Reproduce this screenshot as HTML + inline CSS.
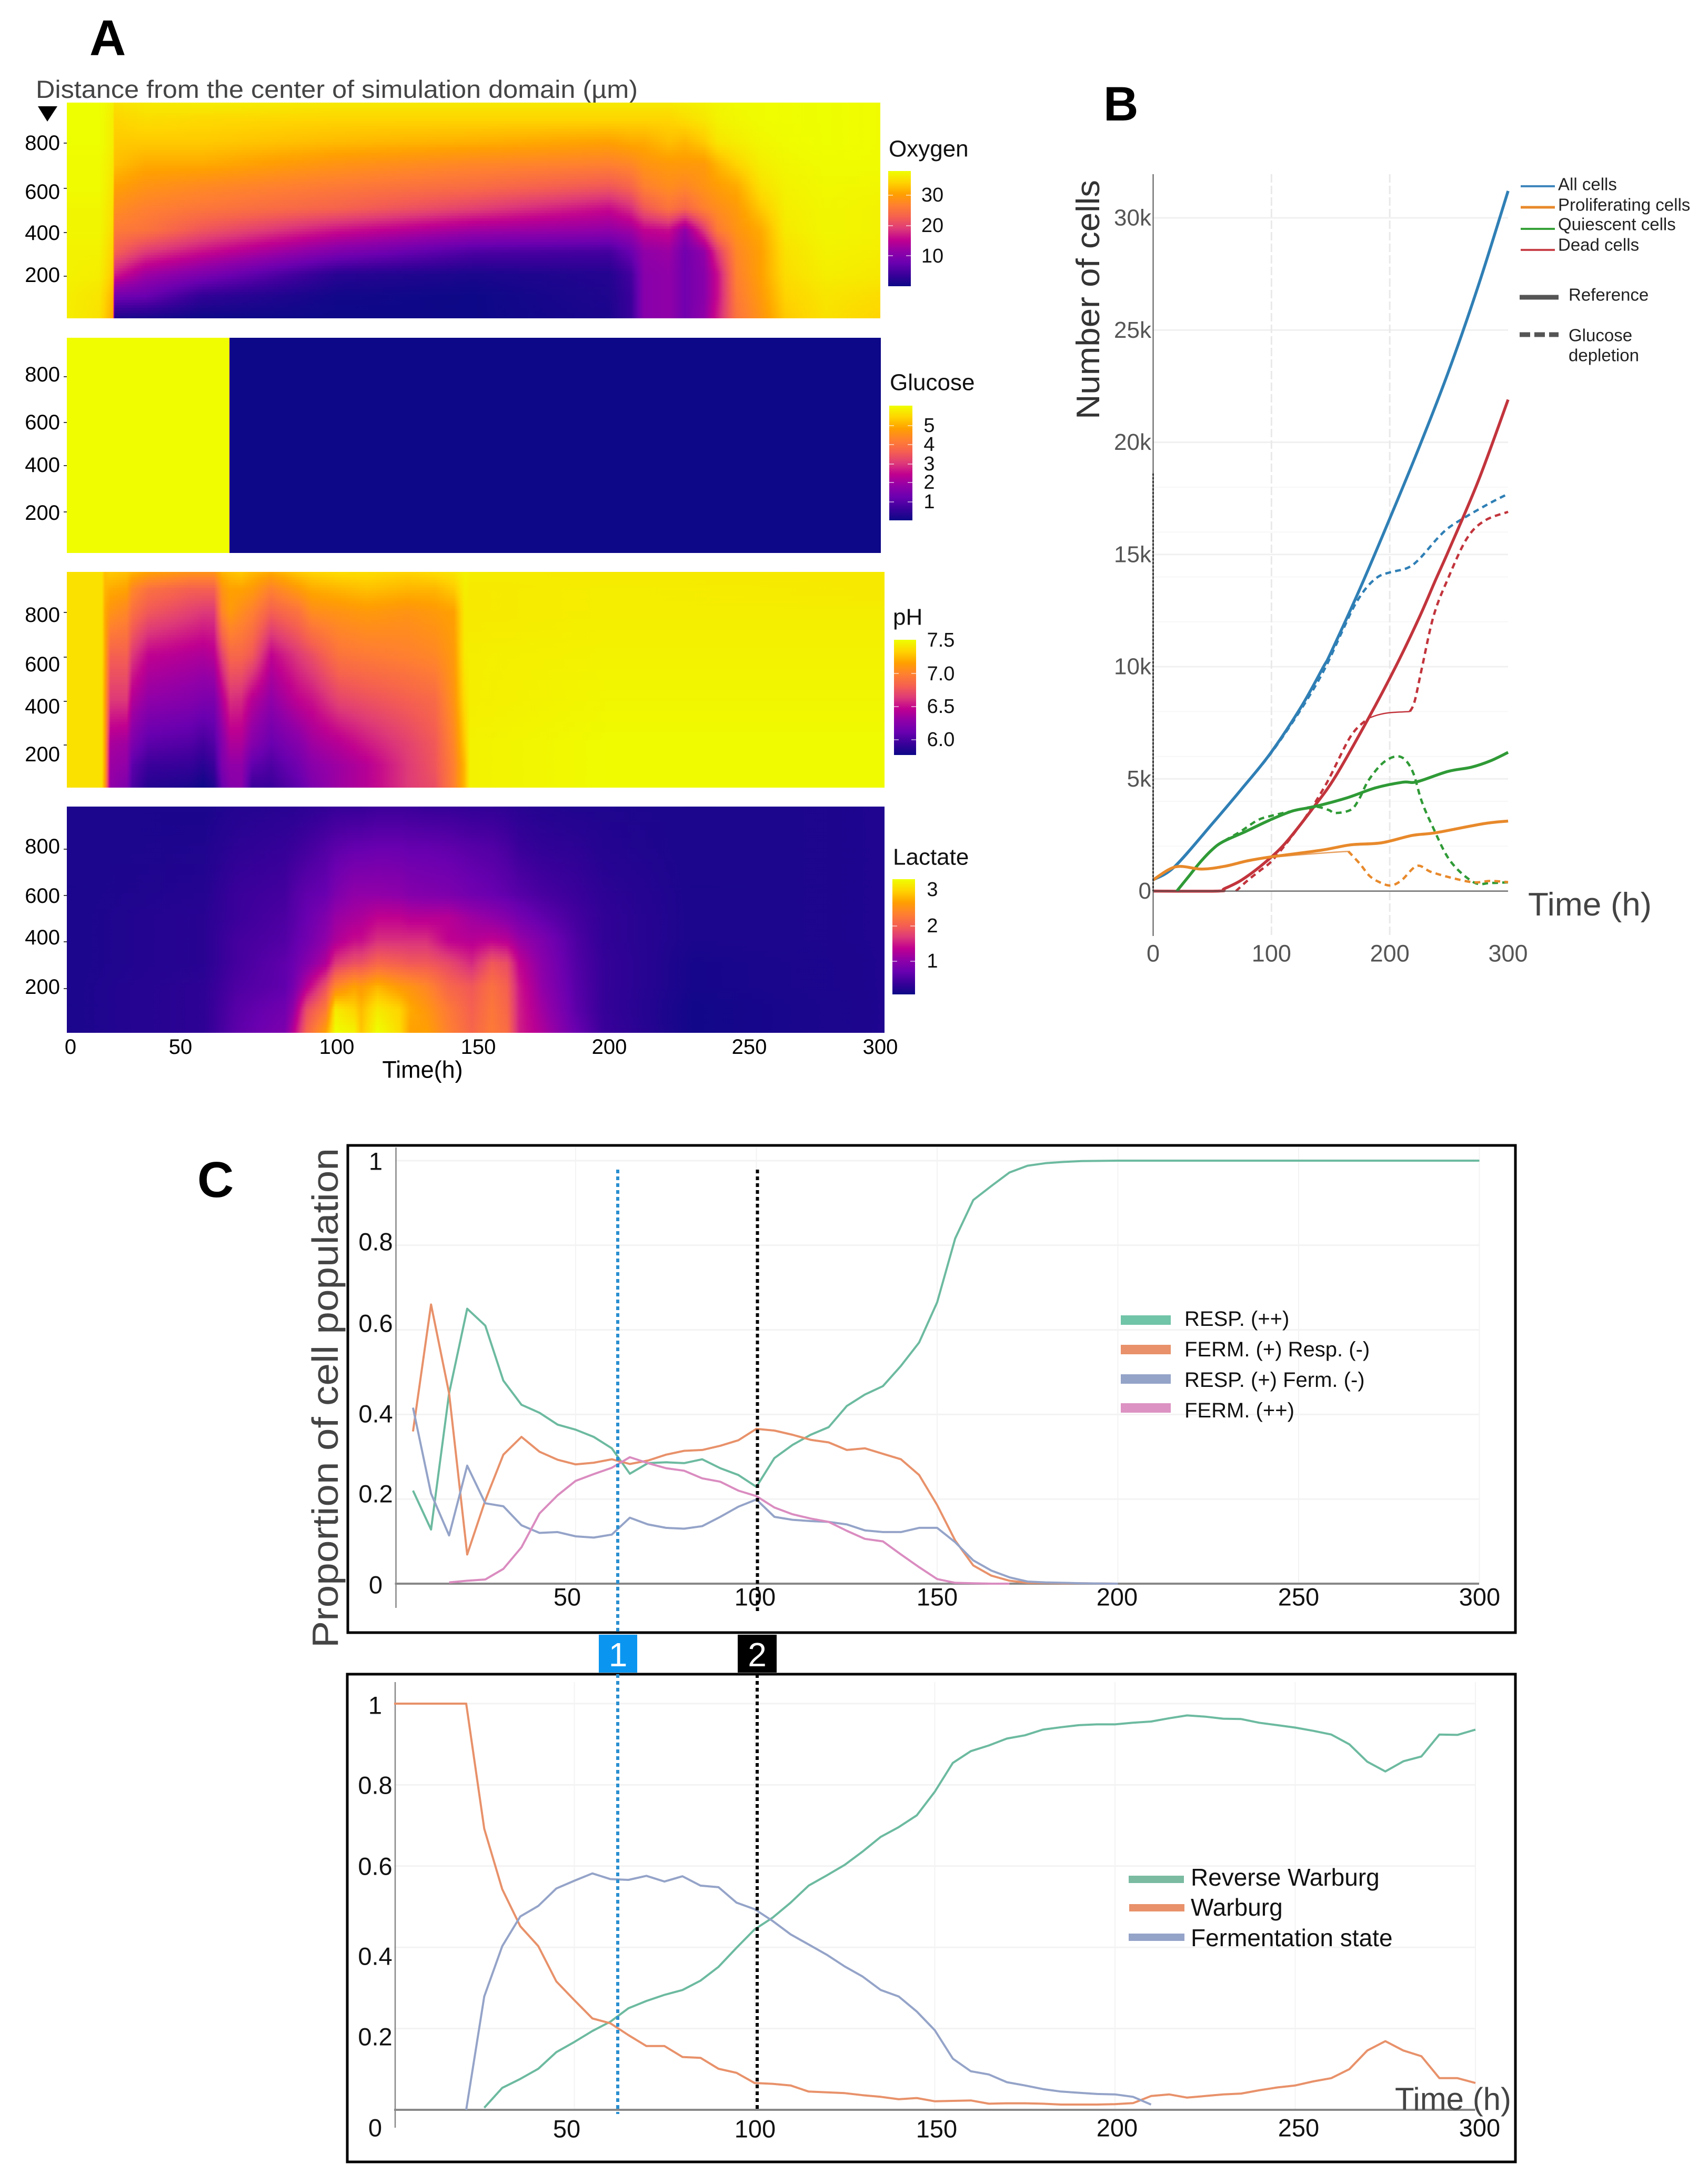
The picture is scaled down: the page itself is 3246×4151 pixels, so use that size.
<!DOCTYPE html>
<html lang="en">
<head>
<meta charset="utf-8">
<title>Simulation heatmaps, cell counts and metabolic states</title>
<style>
html,body{margin:0;padding:0;background:#fff}
svg{display:block}
text{font-family:"Liberation Sans",sans-serif;fill:#000}
.yl{font-size:40px;text-anchor:end;dominant-baseline:central}
.xl{font-size:40px;text-anchor:middle;dominant-baseline:central}
.ct{font-size:38px;text-anchor:middle;dominant-baseline:central;fill:#111}
.lt{font-size:44px;dominant-baseline:central;fill:#111}
.pl{font-size:96px;font-weight:bold}
.cy{font-size:47px;text-anchor:middle;dominant-baseline:central;fill:#111}
.cl{font-size:40px;dominant-baseline:central;fill:#111}
.dl{font-size:46px;dominant-baseline:central;fill:#111}
.bl{font-size:33px;dominant-baseline:central;fill:#222}
</style>
</head>
<body>
<svg id="fig" xmlns="http://www.w3.org/2000/svg" width="3246" height="4151" viewBox="0 0 3246 4151">
<rect x="0" y="0" width="3246" height="4151" fill="#fff"/>
<defs id="defs"></defs>

<!-- PANEL A -->
<g>
<text class="pl" x="170" y="105">A</text>
<text x="68" y="186" font-size="47" fill="#444" style="fill:#444" textLength="1144" lengthAdjust="spacingAndGlyphs">Distance from the center of simulation domain (µm)</text>
<polygon points="72,202 109,202 90,231" fill="#000"/>
<g id="heat-oxygen"></g>
<g id="heat-glucose"></g>
<g id="heat-ph"></g>
<g id="heat-lactate"></g>
<g id="heat-bars"></g>

<g>
<text class="yl" x="114" y="272">800</text>
<text class="yl" x="114" y="365">600</text>
<text class="yl" x="114" y="443">400</text>
<text class="yl" x="114" y="523">200</text>
</g>
<g>
<text class="yl" x="114" y="712">800</text>
<text class="yl" x="114" y="803">600</text>
<text class="yl" x="114" y="884">400</text>
<text class="yl" x="114" y="975">200</text>
</g>
<g>
<text class="yl" x="114" y="1169">800</text>
<text class="yl" x="114" y="1263">600</text>
<text class="yl" x="114" y="1343">400</text>
<text class="yl" x="114" y="1434">200</text>
</g>
<g>
<text class="yl" x="114" y="1609">800</text>
<text class="yl" x="114" y="1703">600</text>
<text class="yl" x="114" y="1782">400</text>
<text class="yl" x="114" y="1876">200</text>
</g>
<g>
<text class="xl" x="134" y="1990">0</text>
<text class="xl" x="343" y="1990">50</text>
<text class="xl" x="640" y="1990">100</text>
<text class="xl" x="909" y="1990">150</text>
<text class="xl" x="1158" y="1990">200</text>
<text class="xl" x="1424" y="1990">250</text>
<text class="xl" x="1673" y="1990">300</text>
<text class="xl" x="803" y="2033" font-size="45" style="font-size:45px">Time(h)</text>
</g>
<g>
<text class="lt" x="1689" y="283">Oxygen</text>
<text class="ct" x="1772" y="371">30</text>
<text class="ct" x="1772" y="429">20</text>
<text class="ct" x="1772" y="487">10</text>
<text class="lt" x="1691" y="727">Glucose</text>
<text class="ct" x="1766" y="809">5</text>
<text class="ct" x="1766" y="845">4</text>
<text class="ct" x="1766" y="882">3</text>
<text class="ct" x="1766" y="917">2</text>
<text class="ct" x="1766" y="954">1</text>
<text class="lt" x="1697" y="1173">pH</text>
<text class="ct" x="1788" y="1217">7.5</text>
<text class="ct" x="1788" y="1281">7.0</text>
<text class="ct" x="1788" y="1343">6.5</text>
<text class="ct" x="1788" y="1406">6.0</text>
<text class="lt" x="1697" y="1629">Lactate</text>
<text class="ct" x="1772" y="1691">3</text>
<text class="ct" x="1772" y="1760">2</text>
<text class="ct" x="1772" y="1827">1</text>
</g>
</g>

<!-- PANEL B -->
<g>
<text class="pl" x="2097" y="229" font-size="92" style="font-size:92px">B</text>
<g id="b-grid"></g>
<g id="b-series"></g>
<g id="b-axis"></g>
<text transform="translate(2089,797) rotate(-90)" font-size="62" style="fill:#333" textLength="455" lengthAdjust="spacingAndGlyphs">Number of cells</text>
<text x="2904" y="1740" font-size="62" style="fill:#444" textLength="235" lengthAdjust="spacingAndGlyphs">Time (h)</text>
<g>
<line x1="2890" x2="2955" y1="354" y2="354" stroke="#3f86bd" stroke-width="4"/>
<text class="bl" x="2961" y="350">All cells</text>
<line x1="2890" x2="2955" y1="394" y2="394" stroke="#e8892b" stroke-width="5"/>
<text class="bl" x="2961" y="389">Proliferating cells</text>
<line x1="2890" x2="2955" y1="435" y2="435" stroke="#38a13a" stroke-width="4"/>
<text class="bl" x="2961" y="426">Quiescent cells</text>
<line x1="2890" x2="2955" y1="475" y2="475" stroke="#c8434a" stroke-width="4"/>
<text class="bl" x="2961" y="465">Dead cells</text>
<line x1="2888" x2="2962" y1="565" y2="565" stroke="#555" stroke-width="9"/>
<text class="bl" x="2981" y="560">Reference</text>
<line x1="2888" x2="2962" y1="636" y2="636" stroke="#555" stroke-width="9" stroke-dasharray="20 8"/>
<text class="bl" x="2981" y="637">Glucose</text>
<text class="bl" x="2981" y="675">depletion</text>
</g>
</g>

<!-- PANEL C -->
<g>
<text class="pl" x="375" y="2275">C</text>
<text transform="translate(642,3132) rotate(-90)" font-size="70" style="fill:#444" textLength="950" lengthAdjust="spacingAndGlyphs">Proportion of cell population</text>

<rect x="661" y="2177" width="2219" height="926" fill="#fff" stroke="#000" stroke-width="5"/>
<g id="c-top"></g>
<g>
<text class="cy" x="714" y="2207">1</text>
<text class="cy" x="714" y="2360">0.8</text>
<text class="cy" x="714" y="2515">0.6</text>
<text class="cy" x="714" y="2687">0.4</text>
<text class="cy" x="714" y="2839">0.2</text>
<text class="cy" x="714" y="3012">0</text>
</g>
<g>
<text class="cy" x="1078" y="3035">50</text>
<text class="cy" x="1435" y="3035">100</text>
<text class="cy" x="1781" y="3035">150</text>
<text class="cy" x="2123" y="3035">200</text>
<text class="cy" x="2468" y="3035">250</text>
<text class="cy" x="2812" y="3035">300</text>
</g>
<g>
<rect x="2130" y="2500" width="95" height="18" fill="#70c4a8"/>
<text class="cl" x="2251" y="2507">RESP. (++)</text>
<rect x="2130" y="2556" width="95" height="18" fill="#e8916a"/>
<text class="cl" x="2251" y="2565">FERM. (+) Resp. (-)</text>
<rect x="2130" y="2612" width="95" height="18" fill="#94a3c8"/>
<text class="cl" x="2251" y="2623">RESP. (+) Ferm. (-)</text>
<rect x="2130" y="2667" width="95" height="18" fill="#dc92c2"/>
<text class="cl" x="2251" y="2681">FERM. (++)</text>
</g>

<rect x="660" y="3182" width="2220" height="927" fill="#fff" stroke="#000" stroke-width="5"/>
<g id="c-bot"></g>
<g>
<text class="cy" x="713" y="3241">1</text>
<text class="cy" x="713" y="3393">0.8</text>
<text class="cy" x="713" y="3547">0.6</text>
<text class="cy" x="713" y="3718">0.4</text>
<text class="cy" x="713" y="3871">0.2</text>
<text class="cy" x="713" y="4044">0</text>
</g>
<g>
<text class="cy" x="1077" y="4046">50</text>
<text class="cy" x="1435" y="4046">100</text>
<text class="cy" x="1780" y="4046">150</text>
<text class="cy" x="2123" y="4044">200</text>
<text class="cy" x="2468" y="4044">250</text>
<text class="cy" x="2812" y="4044">300</text>
</g>
<text x="2651" y="4010" font-size="60" style="fill:#444" textLength="221" lengthAdjust="spacingAndGlyphs">Time (h)</text>
<g>
<rect x="2145" y="3565" width="105" height="14" fill="#7abba2"/>
<text class="dl" x="2263" y="3568">Reverse Warburg</text>
<rect x="2146" y="3619" width="105" height="14" fill="#e8916a"/>
<text class="dl" x="2263" y="3625">Warburg</text>
<rect x="2145" y="3675" width="106" height="14" fill="#94a3c8"/>
<text class="dl" x="2263" y="3683">Fermentation state</text>
</g>

<g>
<line x1="1174" x2="1174" y1="2223" y2="3107" stroke="#2a8fd0" stroke-width="6" stroke-dasharray="7 6"/>
<line x1="1439.5" x2="1439.5" y1="2223" y2="3062" stroke="#000" stroke-width="6" stroke-dasharray="7 6"/>
<line x1="1174" x2="1174" y1="3182" y2="4018" stroke="#2a8fd0" stroke-width="6" stroke-dasharray="7 6"/>
<line x1="1439" x2="1439" y1="3182" y2="4010" stroke="#000" stroke-width="6" stroke-dasharray="7 6"/>
<rect x="1138" y="3107" width="73" height="72" fill="#0a96f0"/>
<text x="1174.500" y="3145" font-size="64" text-anchor="middle" dominant-baseline="central" style="fill:#fff">1</text>
<rect x="1402" y="3107" width="74" height="72" fill="#000"/>
<text x="1439" y="3145" font-size="64" text-anchor="middle" dominant-baseline="central" style="fill:#fff">2</text>
</g>
</g>
</svg>

<script>
// ===== PANEL A DATA (values are fractions of each colour scale) =====
const oxygenTimes=[0,12,17,17.6,29,50,100,150,200,208,213,222,228,235,240,247,256,265,280,300];
const oxygenDepths=[0,100,200,300,400,500,600,700,800,900,980];
const oxygenValues=[
[.96,.96,.97,.97,.98,.98,.99,.99,1,1,1],
[.93,.94,.96,.97,.98,.98,.99,.99,1,1,1],
[.82,.84,.88,.9,.92,.93,.94,.95,.96,.96,.97],
[.03,.22,.45,.6,.68,.74,.8,.86,.88,.9,.93],
[.02,.2,.33,.5,.66,.7,.76,.82,.88,.92,.95],
[0,.08,.25,.42,.57,.67,.73,.82,.88,.91,.96],
[0,.01,.06,.25,.43,.61,.68,.76,.85,.9,.95],
[0,0,.03,.14,.33,.52,.64,.72,.83,.9,.95],
[.03,.04,.05,.12,.3,.42,.58,.7,.8,.9,.95],
[.1,.1,.12,.2,.33,.48,.62,.72,.82,.9,.95],
[.28,.28,.28,.3,.4,.58,.7,.76,.82,.9,.95],
[.3,.3,.3,.32,.42,.66,.74,.78,.86,.9,.95],
[.22,.22,.22,.22,.3,.62,.72,.78,.84,.92,.96],
[.3,.28,.28,.3,.5,.7,.76,.78,.88,.94,.97],
[.45,.42,.42,.5,.68,.74,.79,.84,.94,.97,.98],
[.66,.68,.7,.72,.76,.78,.82,.9,.96,.98,.99],
[.76,.78,.8,.8,.82,.88,.93,.96,.98,.99,.99],
[.88,.9,.92,.93,.95,.96,.97,.98,.99,.995,.995],
[.93,.94,.96,.97,.98,.98,.985,.99,1,1,1],
[.9,.92,.95,.96,.97,.97,.98,.99,.99,.99,.99]];
const glucoseTimes=[0,59.9,60,300];
const glucoseDepths=[0,980];
const glucoseValues=[[.995,.995],[.995,.995],[0,0],[0,0]];
const phTimes=[0,12.8,14,16,22,24,30,45,50,54,57,60,64,68,75,85,90,100,110,125,135,142,146,148,200,300];
const phDepths=[0,100,200,400,600,800,900,980];
const phValues=[
[.93,.93,.93,.93,.93,.93,.93,.93],
[.93,.93,.93,.93,.93,.93,.93,.93],
[.78,.8,.8,.8,.82,.82,.84,.86],
[.3,.32,.35,.5,.6,.76,.82,.88],
[.25,.3,.33,.5,.6,.72,.8,.86],
[.14,.17,.25,.37,.5,.65,.72,.84],
[.05,.1,.17,.3,.4,.58,.65,.8],
[.03,.09,.15,.27,.37,.52,.6,.76],
[0,.06,.12,.25,.36,.5,.6,.76],
[.04,.1,.15,.25,.38,.5,.6,.76],
[.2,.25,.27,.37,.52,.72,.76,.84],
[.27,.3,.36,.48,.62,.78,.8,.86],
[.28,.3,.36,.47,.62,.74,.8,.88],
[.1,.18,.27,.38,.58,.7,.78,.85],
[.1,.14,.2,.3,.4,.6,.7,.82],
[.18,.22,.27,.4,.5,.66,.78,.88],
[.25,.28,.33,.43,.55,.74,.82,.9],
[.33,.33,.38,.53,.66,.76,.84,.92],
[.38,.38,.44,.56,.68,.78,.86,.92],
[.5,.5,.52,.6,.7,.76,.84,.9],
[.55,.57,.58,.63,.72,.78,.84,.92],
[.7,.7,.72,.76,.78,.8,.88,.94],
[.85,.85,.88,.92,.95,.95,.96,.97],
[.97,.97,.97,.96,.96,.95,.95,.96],
[.99,.99,.99,.98,.97,.96,.96,.95],
[.99,.99,.99,.98,.97,.96,.95,.95]];
const lactateTimes=[0,50,62,80,83,88,95,98.6,105.5,108,114,122,126,132,140,148.6,156,161.5,166,174.5,187,197,230,300];
const lactateDepths=[0,100,200,300,400,500,600,800,980];
const lactateValues=[
[.03,.03,.03,.03,.03,.03,.03,.03,.03],
[.07,.07,.07,.06,.06,.06,.05,.04,.03],
[.17,.16,.14,.12,.12,.1,.1,.07,.05],
[.25,.22,.18,.18,.15,.14,.12,.09,.06],
[.38,.3,.23,.2,.18,.16,.15,.1,.06],
[.62,.55,.38,.27,.22,.2,.18,.12,.07],
[.8,.68,.56,.37,.3,.26,.2,.15,.08],
[1,.95,.72,.5,.36,.32,.25,.17,.09],
[.97,.9,.8,.56,.42,.35,.3,.19,.09],
[.87,.85,.78,.56,.42,.36,.3,.19,.09],
[1,.95,.84,.62,.48,.4,.3,.2,.1],
[.92,.9,.78,.6,.48,.4,.29,.2,.1],
[.8,.82,.76,.58,.48,.38,.27,.19,.1],
[.8,.77,.72,.58,.48,.38,.26,.19,.09],
[.7,.68,.62,.54,.4,.38,.25,.18,.09],
[.62,.6,.58,.47,.38,.33,.22,.16,.08],
[.68,.67,.65,.58,.4,.3,.2,.15,.08],
[.64,.62,.6,.55,.38,.27,.18,.13,.07],
[.45,.45,.44,.4,.32,.23,.16,.1,.06],
[.36,.33,.3,.28,.25,.18,.13,.08,.05],
[.2,.17,.16,.15,.14,.12,.1,.07,.04],
[.1,.09,.09,.09,.08,.08,.07,.05,.04],
[.01,.01,.02,.02,.03,.03,.03,.03,.03],
[.04,.04,.04,.04,.04,.04,.04,.04,.04]];
const plasmaStops=['#0d0887','#3a009a','#6a00b0','#9000a8','#c00090','#de3a78','#f56050','#ff8030','#ffa000','#ffd400','#eeff00'];

// ===== PANEL B DATA (hours, thousands of cells) =====
const bTicksY=[0,5,10,15,20,25,30];
const bFaintY=[2,4,6,8,12,14,16,18];
const bTicksX=[0,100,200,300];
const allRefT=[0,18,50,74,99,125,144,150,175,200,225,250,275,300];
const allRefV=[.5,1.08,3,4.5,6.13,8.2,10,10.6,13.5,16.6,19.8,23.2,27,31.2];
const allDepT=[0,18,50,74,99,125,144,160,170,180,190,200,215,225,240,250,265,285,300];
const allDepV=[.5,1.08,3,4.5,6.1,8.1,9.8,11.6,12.7,13.5,14,14.2,14.4,14.8,15.7,16.2,16.7,17.3,17.7];
const prolRefT=[0,19,41,60,80,99,142,167,193,219,239,279,300];
const prolRefV=[.5,1.08,.98,1.1,1.35,1.52,1.82,2.06,2.15,2.48,2.6,3,3.12];
const prolThinT=[99,125,150,165];
const prolThinV=[1.5,1.62,1.72,1.77];
const prolDepT=[165,175,183,192,201,210,223,235,253,271,285,300];
const prolDepV=[1.77,1.2,.67,.38,.25,.48,1.12,.85,.58,.39,.45,.4];
const quiRefT=[20,30,40,50,59,78,98,118,136,163,188,211,223,249,269,285,300];
const quiRefV=[0,.65,1.3,1.85,2.2,2.65,3.15,3.57,3.76,4.14,4.6,4.85,4.87,5.33,5.52,5.8,6.18];
const quiDepT=[20,30,40,50,59,74,88,99,118,136,148,154,167,174,182,194,205,213,220,227,236,251,271,285,300];
const quiDepV=[0,.65,1.3,1.85,2.2,2.66,3.15,3.34,3.57,3.76,3.62,3.48,3.62,4.09,4.93,5.7,6,5.85,5.24,4,2.9,1.35,.39,.36,.39];
const deadRefT=[0,55,60,75,94,112,136,154,182,205,225,239,250,275,300];
const deadRefV=[0,0,.1,.5,1.25,2.15,3.76,5.1,7.7,10,12.2,13.9,15.2,18.3,21.9];
const deadDepT=[70,80,90,102,125,146,167,182];
const deadDepV=[0,.48,.9,1.44,3,4.75,6.9,7.7];
const deadPlateauT=[182,190,200,217];
const deadPlateauV=[7.7,7.85,7.95,8];
const deadLateT=[217,221,227,237,249,265,280,300];
const deadLateV=[8,8.45,9.9,12.25,13.9,15.7,16.5,16.9];

// ===== PANEL C TOP DATA =====
const cTicksY=[0,.2,.4,.6,.8,1];
const cTicksX=[50,100,150,200,250,300];
const stateTimes=[5,10,15,20,25,30,35,40,45,50,55,60,65,70,75,80,85,90,95,100,105,110,115,120,125,130,135,140,145,150,155,160,165,170,175,180,185,190,200,300];
const respStrong=[.22,.128,.45,.65,.61,.48,.423,.404,.376,.364,.347,.32,.26,.285,.287,.285,.294,.273,.257,.229,.297,.328,.352,.37,.42,.447,.467,.515,.57,.665,.816,.907,.94,.972,.988,.994,.997,.999,1,1];
const fermResp=[.36,.66,.45,.069,.197,.305,.347,.312,.293,.282,.286,.294,.283,.291,.305,.314,.316,.326,.339,.366,.362,.352,.34,.334,.316,.32,.307,.294,.257,.186,.102,.043,.019,.007,.002,.002,.001,.001,0,null];
const respFerm=[.416,.213,.114,.279,.19,.183,.138,.12,.122,.112,.109,.116,.156,.14,.132,.13,.136,.158,.182,.199,.158,.151,.148,.146,.14,.126,.122,.122,.132,.132,.098,.055,.031,.015,.005,.003,.002,.001,0,null];
const fermStrong=[null,null,.003,.007,.01,.035,.086,.166,.209,.243,.259,.274,.299,.285,.273,.267,.249,.241,.22,.207,.18,.164,.154,.146,.125,.106,.1,.069,.039,.011,.002,.001,0,0,null,null,null,null,null,null];

// ===== PANEL C BOTTOM DATA =====
const phenoTimes=[0,20,25,30,35,40,45,50,55,60,65,70,75,80,85,90,95,100,105,110,115,120,125,130,135,140,145,150,155,160,165,170,175,180,185,190,195,200,205,210,215,220,225,230,235,240,245,250,255,260,265,270,275,280,285,290,295,300];
const warburg=[1,1,.692,.543,.452,.403,.316,.27,.225,.213,.184,.157,.157,.13,.128,.101,.091,.066,.064,.06,.045,.043,.041,.036,.032,.026,.029,.021,.022,.023,.015,.016,.016,.015,.013,.013,.013,.014,.0165,.034,.038,.03,.034,.038,.04,.048,.055,.06,.07,.078,.1,.146,.169,.146,.132,.078,.078,.066];
const reverseWarburg=[null,null,.005,.054,.076,.101,.142,.167,.194,.217,.25,.268,.283,.295,.318,.352,.399,.444,.473,.51,.552,.577,.603,.636,.672,.696,.725,.783,.854,.883,.897,.914,.922,.936,.942,.947,.949,.949,.953,.956,.964,.971,.968,.963,.962,.953,.947,.941,.933,.924,.9,.857,.833,.858,.87,.924,.923,.936];
const fermentationState=[null,0,.279,.403,.476,.502,.545,.564,.582,.568,.566,.576,.562,.575,.552,.548,.51,.494,.465,.432,.407,.382,.353,.328,.295,.279,.242,.196,.126,.095,.087,.068,.06,.051,.045,.042,.039,.038,.032,.013,null,null,null,null,null,null,null,null,null,null,null,null,null,null,null,null,null,null];

// ===== HELPERS =====
var NS='http://www.w3.org/2000/svg';
function mk(tag,attrs,parent,name){
  var el=document.createElementNS(NS,tag);
  for(var k in attrs){el.setAttribute(k,attrs[k]);}
  
  
  parent.appendChild(el);
  return el;
}
var stopRGB=plasmaStops.map(function(h){return [parseInt(h.substr(1,2),16),parseInt(h.substr(3,2),16),parseInt(h.substr(5,2),16)];});
function plasma(v){
  v=Math.max(0,Math.min(1,v))*(stopRGB.length-1);
  var i=Math.min(Math.floor(v),stopRGB.length-2),f=v-i,a=stopRGB[i],b=stopRGB[i+1];
  return 'rgb('+Math.round(a[0]+(b[0]-a[0])*f)+','+Math.round(a[1]+(b[1]-a[1])*f)+','+Math.round(a[2]+(b[2]-a[2])*f)+')';
}
var defs=document.getElementById('defs'),gid=0;

function drawHeatmap(id,label,times,depths,values,left,right,top,bottom){
  var g=document.getElementById(id);
  var xOf=function(t){return left+t*(right-left)/300;};
  var depthAt=function(y){return (bottom-y)*980/(bottom-top);};
  var step=5;
  for(var y=top;y<bottom;y+=step){
    var d=depthAt(y+step/2),r=0;
    while(r<depths.length-2&&depths[r+1]<d){r++;}
    var f=Math.max(0,Math.min(1,(d-depths[r])/(depths[r+1]-depths[r])));
    var grad=mk('linearGradient',{id:'hg'+(++gid),gradientUnits:'userSpaceOnUse',x1:left,x2:right,y1:0,y2:0},defs,'heat-gradient');
    var prev=null;
    for(var c=0;c<times.length;c++){
      var v=values[c][r]*(1-f)+values[c][r+1]*f;
      if(prev!==null){
        var n=Math.ceil(Math.abs(v-prev)/.04);
        for(var s=1;s<n;s++){
          var tt=times[c-1]+(times[c]-times[c-1])*s/n;
          mk('stop',{offset:tt/300,'stop-color':plasma(prev+(v-prev)*s/n)},grad,'heat-stop');
        }
      }
      mk('stop',{offset:times[c]/300,'stop-color':plasma(v)},grad,'heat-stop');
      prev=v;
    }
    var h=Math.min(step+1,bottom-y);
    mk('rect',{x:xOf(0),y:y,width:right-left,height:h,fill:'url(#hg'+gid+')','shape-rendering':'crispEdges'},g,label+'-band');
  }
}
drawHeatmap('heat-oxygen','oxygen',oxygenTimes,oxygenDepths,oxygenValues,127,1673,195,605);
drawHeatmap('heat-glucose','glucose',glucoseTimes,glucoseDepths,glucoseValues,127,1674,642,1051);
drawHeatmap('heat-ph','ph',phTimes,phDepths,phValues,127,1681,1087,1497);
drawHeatmap('heat-lactate','lactate',lactateTimes,lactateDepths,lactateValues,127,1681,1533,1963);

// heatmap tick marks
function heatTicks(ys,name){
  var g=document.getElementById('heat-bars');
  ys.forEach(function(y){mk('line',{x1:121,x2:127,y1:y,y2:y,stroke:'#444','stroke-width':2},g,name);});
}
heatTicks([272,358,442,525],'oxygen-y-tick-mark');
heatTicks([716,803,885,973],'glucose-y-tick-mark');
heatTicks([1164,1249,1333,1416],'ph-y-tick-mark');
heatTicks([1614,1702,1790,1879],'lactate-y-tick-mark');

// colour bars
function colorbar(name,x0,x1,y0,y1,tickYs){
  var g=document.getElementById('heat-bars');
  var grad=mk('linearGradient',{id:'cb'+(++gid),x1:0,x2:0,y1:1,y2:0},defs,name+'-gradient');
  for(var i=0;i<stopRGB.length;i++){
    mk('stop',{offset:i/(stopRGB.length-1),'stop-color':plasmaStops[i]},grad,'colorbar-stop');
  }
  mk('rect',{x:x0,y:y0,width:x1-x0,height:y1-y0,fill:'url(#cb'+gid+')'},g,name);
  tickYs.forEach(function(y){
    mk('line',{x1:x0,x2:x0+9,y1:y,y2:y,stroke:'#fff','stroke-opacity':.55,'stroke-width':2},g,name+'-tick');
    mk('line',{x1:x1-9,x2:x1,y1:y,y2:y,stroke:'#fff','stroke-opacity':.55,'stroke-width':2},g,name+'-tick');
  });
}
colorbar('oxygen-colorbar',1688,1731,325,544,[371,429,486]);
colorbar('glucose-colorbar',1690,1734,771,989,[809,845,882,917,954]);
colorbar('ph-colorbar',1699,1741,1216,1435,[1280,1343,1406]);
colorbar('lactate-colorbar',1696,1739,1671,1890,[1760,1827]);

// ===== line helper =====
function pathD(ts,vs,x,y,smooth){
  var pts=[];
  for(var i=0;i<ts.length;i++){ if(vs[i]!==null){pts.push([x(ts[i]),y(vs[i])]);} }
  var d='M'+pts[0][0].toFixed(1)+' '+pts[0][1].toFixed(1);
  for(var j=1;j<pts.length;j++){
    if(!smooth){d+='L'+pts[j][0].toFixed(1)+' '+pts[j][1].toFixed(1);continue;}
    var p0=pts[Math.max(0,j-2)],p1=pts[j-1],p2=pts[j],p3=pts[Math.min(pts.length-1,j+1)];
    d+='C'+(p1[0]+(p2[0]-p0[0])/6).toFixed(1)+' '+(p1[1]+(p2[1]-p0[1])/6).toFixed(1)+' '+(p2[0]-(p3[0]-p1[0])/6).toFixed(1)+' '+(p2[1]-(p3[1]-p1[1])/6).toFixed(1)+' '+p2[0].toFixed(1)+' '+p2[1].toFixed(1);
  }
  return d;
}

// ===== PANEL B =====
var bx=function(t){return 2191.5+t*2.2485;};
var by=function(v){return 1693.6-v*42.65;};
(function(){
  var grid=document.getElementById('b-grid'),axis=document.getElementById('b-axis'),ser=document.getElementById('b-series');
  bFaintY.forEach(function(v){mk('line',{x1:bx(0),x2:bx(300),y1:by(v),y2:by(v),stroke:'#f7f7f7','stroke-width':2},grid,'faint-gridline');});
  bTicksY.forEach(function(v){mk('line',{x1:bx(0),x2:bx(300),y1:by(v),y2:by(v),stroke:'#f0f0f0','stroke-width':3},grid,'y-gridline');});
  [100,200].forEach(function(t){mk('line',{x1:bx(t),x2:bx(t),y1:331,y2:1779,stroke:'#e9e9e9','stroke-width':3,'stroke-dasharray':'16 6'},grid,'x-gridline');});
  mk('line',{x1:bx(0),x2:bx(0),y1:331,y2:1779,stroke:'#555','stroke-width':2},axis,'y-axis-line');
  mk('line',{x1:bx(0),x2:bx(0),y1:900,y2:1694,stroke:'#333','stroke-width':3,'stroke-dasharray':'4 3'},axis,'y-axis-dashed-overlay');
  mk('line',{x1:bx(0),x2:bx(300),y1:by(0),y2:by(0),stroke:'#555','stroke-width':2},axis,'zero-line');
  bTicksY.forEach(function(v){
    var t=mk('text',{x:2188,y:by(v),'font-size':44,'text-anchor':'end','dominant-baseline':'central',style:'fill:#555'},axis,'y-tick-label');
    t.textContent=v===0?'0':v+'k';
  });
  bTicksX.forEach(function(v){
    var t=mk('text',{x:bx(v),y:1812,'font-size':45,'text-anchor':'middle','dominant-baseline':'central',style:'fill:#555'},axis,'x-tick-label');
    t.textContent=String(v);
  });
  function line(ts,vs,color,mode,name){
    var a={d:pathD(ts,vs,bx,by,true),fill:'none',stroke:color,'stroke-width':mode==='solid'?5.5:(mode==='thin'?2.5:4.5),'stroke-linejoin':'round'};
    if(mode==='dash'){a['stroke-dasharray']='11 8';}
    mk('path',a,ser,name);
  }
  line(allDepT,allDepV,'#2f7fb5','dash','all-cells-glucose-depletion');
  line(allRefT,allRefV,'#2f7fb5','solid','all-cells-reference');
  line(deadDepT,deadDepV,'#c2343c','dash','dead-cells-glucose-depletion-early');
  line(deadPlateauT,deadPlateauV,'#c2343c','thin','dead-cells-glucose-depletion-plateau');
  line(deadLateT,deadLateV,'#c2343c','dash','dead-cells-glucose-depletion-late');
  line(deadRefT,deadRefV,'#c2343c','solid','dead-cells-reference');
  line(quiDepT,quiDepV,'#2f9a36','dash','quiescent-cells-glucose-depletion');
  line(quiRefT,quiRefV,'#2f9a36','solid','quiescent-cells-reference');
  line(prolThinT,prolThinV,'#e8a060','thin','proliferating-cells-glucose-depletion-early');
  line(prolDepT,prolDepV,'#e8892b','dash','proliferating-cells-glucose-depletion');
  line(prolRefT,prolRefV,'#e8892b','solid','proliferating-cells-reference');
})();

// ===== PANEL C =====
function chart(id,x,y,yTop,yBot,xEnd,series){
  var g=document.getElementById(id);
  cTicksX.forEach(function(t){mk('line',{x1:x(t),x2:x(t),y1:yTop,y2:y(0),stroke:'#f3f3f3','stroke-width':2},g,'x-gridline');});
  cTicksY.forEach(function(v){mk('line',{x1:x(0),x2:xEnd,y1:y(v),y2:y(v),stroke:'#f3f3f3','stroke-width':3},g,'y-gridline');});
  mk('line',{x1:x(0)+2,x2:x(0)+2,y1:yTop,y2:yBot,stroke:'#888','stroke-width':2.5},g,'y-axis-line');
  mk('line',{x1:x(0),x2:xEnd,y1:y(0),y2:y(0),stroke:'#888','stroke-width':4},g,'x-axis-line');
  series.forEach(function(s){
    mk('path',{d:pathD(s.t,s.v,x,y,false),fill:'none',stroke:s.c,'stroke-width':4,'stroke-linejoin':'round'},g,s.n);
  });
}
var tx=function(t){return 750.5+t*6.87;};
var ty=function(v){return 3010-v*804;};
chart('c-top',tx,ty,2181,3056,2811,[
  {t:stateTimes,v:respStrong,c:'#6cbaa0',n:'resp-plus-plus-line'},
  {t:stateTimes,v:fermResp,c:'#e8916a',n:'ferm-resp-line'},
  {t:stateTimes,v:respFerm,c:'#94a3c8',n:'resp-ferm-line'},
  {t:stateTimes,v:fermStrong,c:'#da8cc0',n:'ferm-plus-plus-line'}
]);
var ux=function(t){return 749+t*6.85;};
var uy=function(v){return 4010-v*772;};
chart('c-bot',ux,uy,3197,4044,2803.6,[
  {t:phenoTimes,v:reverseWarburg,c:'#6cbaa0',n:'reverse-warburg-line'},
  {t:phenoTimes,v:warburg,c:'#e8916a',n:'warburg-line'},
  {t:phenoTimes,v:fermentationState,c:'#94a3c8',n:'fermentation-state-line'}
]);
</script>
</body>
</html>
